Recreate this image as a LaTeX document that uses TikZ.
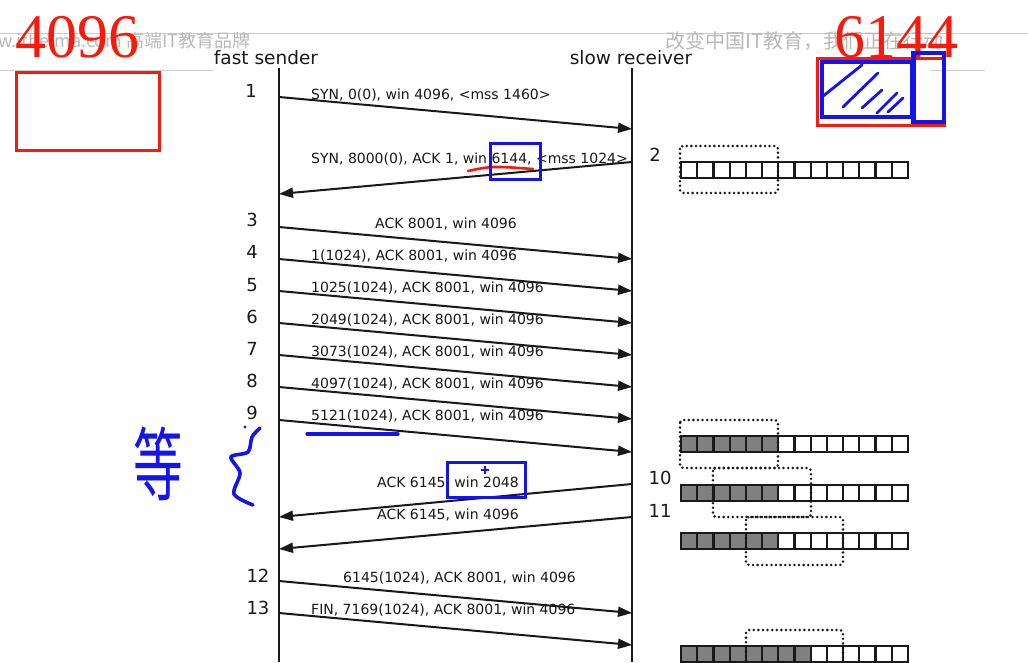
\documentclass[tikz,border=0pt]{standalone}
\usepackage{fontspec}
\setmainfont{DejaVu Sans}
\newfontfamily\serifnum{Liberation Serif}
\newfontfamily\cjk{Noto Sans CJK SC}
\usetikzlibrary{arrows.meta}
\definecolor{penblue}{RGB}{20,20,235}
\definecolor{penred}{RGB}{250,25,10}
\definecolor{wmgray}{RGB}{185,185,185}
\definecolor{wmline}{RGB}{205,205,205}
\definecolor{cellgray}{RGB}{128,128,128}
\definecolor{ink}{RGB}{25,25,25}
\begin{document}
\begin{tikzpicture}[x=1pt,y=-1pt,
  msg/.style={ink,line width=2pt,-{Triangle[length=14pt,width=10pt]}},
  lifeline/.style={ink,line width=2.4pt},
  lab/.style={ink,font=\fontsize{14}{16}\selectfont,anchor=base west,inner sep=0pt},
  labc/.style={lab,anchor=base},
  num/.style={ink,font=\fontsize{18}{20}\selectfont,inner sep=0pt},
  head/.style={ink,font=\fontsize{18.5}{21}\selectfont,inner sep=0pt},
  cell/.style={ink,line width=2.2pt},
  winbox/.style={ink,line width=2.8pt,dash pattern=on 0pt off 4.6pt,line cap=round,rounded corners=3pt},
  wmtext/.style={wmgray,font=\cjk\fontsize{18}{20}\selectfont,inner sep=0pt,anchor=base west},
  bignum/.style={penred,font=\serifnum\fontsize{62}{62}\selectfont,inner sep=0pt,anchor=base},
  redpen/.style={penred,line width=3pt},
  bluepen/.style={penblue,line width=3.2pt,line cap=round,line join=round}]
\clip (0,0) rectangle (1028,662);
\fill[white] (0,0) rectangle (1028,662);

% watermark header
\draw[wmline,line width=0.8pt] (0,33) -- (1028,33);
\draw[wmline,line width=0.8pt] (0,70) -- (213,70);
\draw[wmline,line width=0.8pt] (930,70) -- (985,70);
\node[wmtext] (wmL) at (-2,47) {w.itheima.com 高端IT教育品牌};
\node[wmtext,font=\cjk\fontsize{20}{22}\selectfont] (wmR) at (665,48) {改变中国IT教育，我们正在行动};

% headers and lifelines
\node[head] (fs) at (266,58) {fast sender};
\node[head] (sr) at (631,58) {slow receiver};
\coordinate (sTop) at (279,68);
\coordinate (sBot) at (279,662);
\coordinate (rTop) at (632,68);
\coordinate (rBot) at (632,662);
\draw[lifeline] (sTop) -- (sBot);
\draw[lifeline] (rTop) -- (rBot);

% step numbers
\node[num] (n1) at (251,91) {1};
\node[num] (n2) at (655,155) {2};
\node[num] (n3) at (252,220) {3};
\node[num] (n4) at (252,252) {4};
\node[num] (n5) at (252,285) {5};
\node[num] (n6) at (252,317) {6};
\node[num] (n7) at (252,349) {7};
\node[num] (n8) at (252,381) {8};
\node[num] (n9) at (252,413) {9};
\node[num] (n10) at (660,478) {10};
\node[num] (n11) at (660,511) {11};
\node[num] (n12) at (258,576) {12};
\node[num] (n13) at (258,608) {13};

% labels
\node[lab] (l1) at (311,99) {SYN, 0(0), win 4096, <mss 1460>};
\node[lab] (l2) at (311,163) {SYN, 8000(0), ACK 1, win 6144, <mss 1024>};
\node[labc] (l3) at (446,228) {ACK 8001, win 4096};
\node[lab] (l4) at (311,260) {1(1024), ACK 8001, win 4096};
\node[lab] (l5) at (311,292) {1025(1024), ACK 8001, win 4096};
\node[lab] (l6) at (311,324) {2049(1024), ACK 8001, win 4096};
\node[lab] (l7) at (311,356) {3073(1024), ACK 8001, win 4096};
\node[lab] (l8) at (311,388) {4097(1024), ACK 8001, win 4096};
\node[lab] (l9) at (311,420) {5121(1024), ACK 8001, win 4096};
\node[labc] (l10) at (448,487) {ACK 6145, win 2048};
\node[labc] (l11) at (448,519) {ACK 6145, win 4096};
\node[lab] (l12) at (343,582) {6145(1024), ACK 8001, win 4096};
\node[lab] (l13) at (311,614) {FIN, 7169(1024), ACK 8001, win 4096};

% message end points
\coordinate (s1) at (279,97);   \coordinate (r1) at (632,129);
\coordinate (r2) at (632,162);  \coordinate (s2) at (279,194);
\coordinate (s3) at (279,227);  \coordinate (r3) at (632,259);
\coordinate (s4) at (279,259);  \coordinate (r4) at (632,291);
\coordinate (s5) at (279,291);  \coordinate (r5) at (632,323);
\coordinate (s6) at (279,323);  \coordinate (r6) at (632,355);
\coordinate (s7) at (279,355);  \coordinate (r7) at (632,387);
\coordinate (s8) at (279,387);  \coordinate (r8) at (632,419);
\coordinate (s9) at (279,420);  \coordinate (r9) at (632,452);
\coordinate (r10) at (632,484); \coordinate (s10) at (279,517);
\coordinate (r11) at (632,517); \coordinate (s11) at (279,549);
\coordinate (s12) at (279,581); \coordinate (r12) at (632,613);
\coordinate (s13) at (279,613); \coordinate (r13) at (632,645);

\draw[msg] (s1) -- (r1);
\draw[msg] (r2) -- (s2);
\draw[msg] (s3) -- (r3);
\draw[msg] (s4) -- (r4);
\draw[msg] (s5) -- (r5);
\draw[msg] (s6) -- (r6);
\draw[msg] (s7) -- (r7);
\draw[msg] (s8) -- (r8);
\draw[msg] (s9) -- (r9);
\draw[msg] (r10) -- (s10);
\draw[msg] (r11) -- (s11);
\draw[msg] (s12) -- (r12);
\draw[msg] (s13) -- (r13);

% receiver buffers
\foreach \top/\ng in {162/0,436/6,485/6,533/6,646/8}{
  \foreach \i in {0,...,13}{
    \ifnum\i<\ng\relax \def\fc{cellgray}\else\def\fc{white}\fi
    \filldraw[cell,fill=\fc] (681+\i*16.2,\top) rectangle +(16.2,16);
  }
}
\draw[winbox] (680,146) rectangle (778,193);
\draw[winbox] (680,420) rectangle (778,468);
\draw[winbox] (713,468) rectangle (811,517);
\draw[winbox] (746,517) rectangle (843,565);
\draw[winbox] (746,630) rectangle (843,690);

% red annotations
\node[bignum] (a4096) at (78,57) {4096};
\draw[redpen] (16,72) rectangle (159,150);
\node[bignum] (a6144) at (896,57) {6144};
\draw[redpen] (817,58) rectangle (944,125);
\draw[penred,line width=2.6pt,line cap=round] (468,171) .. controls (492,166) .. (533,169);

% blue annotations
\draw[penblue,line width=3.5pt] (822,62) rectangle (912,117);
\draw[penblue,line width=3.5pt] (913,53) rectangle (944,122);
\draw[penblue,line width=5pt] (913,53) -- (913,122);
\draw[bluepen,line width=2.8pt] (822,97) -- (862,65);
\draw[bluepen,line width=2.8pt] (843,107) -- (878,73);
\draw[bluepen,line width=2.8pt] (862,108) -- (882,90);
\draw[bluepen,line width=2.8pt] (877,113) -- (897,93);
\draw[bluepen,line width=2.8pt] (888,112) -- (903,98);
\draw[penblue,line width=3pt] (490,143) rectangle (540,179);
\draw[penblue,line width=3pt] (447,462) rectangle (525,497);
\draw[penblue,line width=1.2pt] (481,470) -- (489,470) (485,466) -- (485,474);
\draw[bluepen] (307,434) -- (398,434);
\node[penblue,font=\cjk\fontsize{80}{82}\selectfont,inner sep=0pt,xscale=0.62] (deng) at (158,464) {等};
\draw[bluepen,line width=3.6pt] plot[smooth] coordinates {(260,428) (252,437) (248,452) (231,457) (240,473) (234,494) (253,505)};
\fill[penblue] (245,427) circle (1.6);
\end{tikzpicture}
\end{document}
